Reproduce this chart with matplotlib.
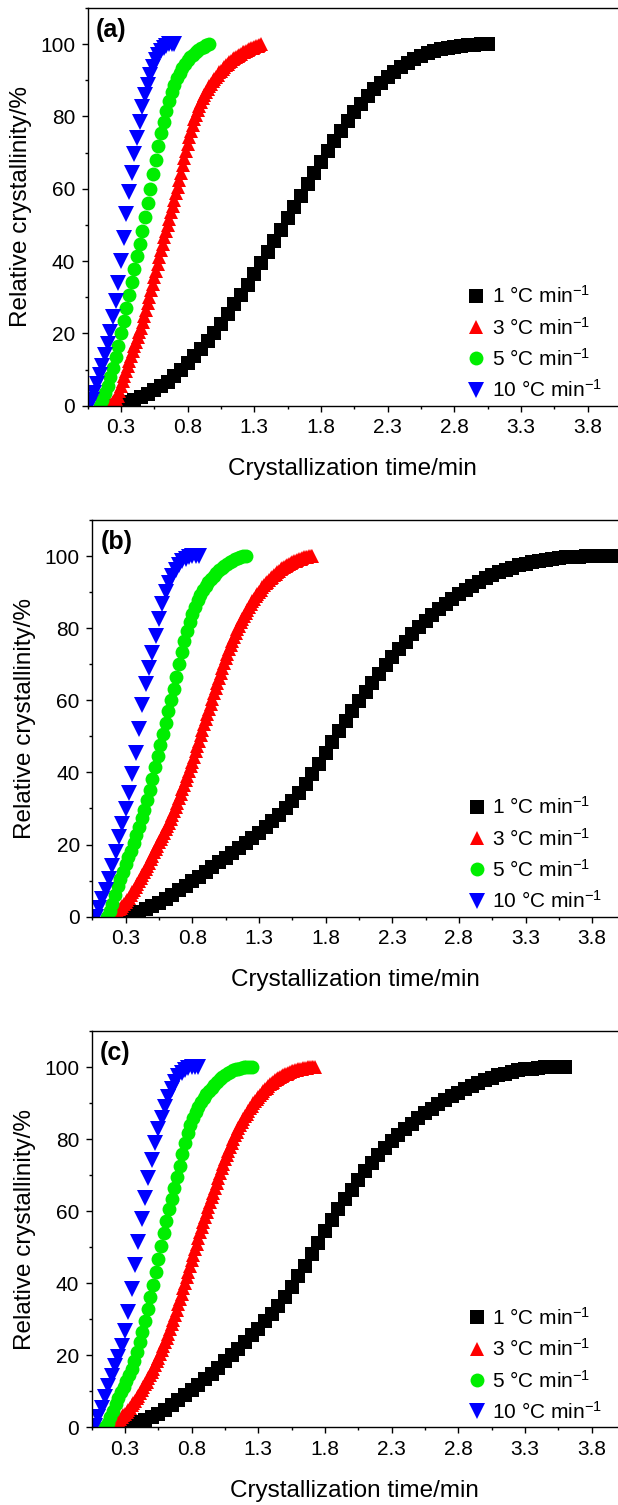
import matplotlib
matplotlib.use("Agg")
import matplotlib.pyplot as plt
from matplotlib.ticker import MultipleLocator

plt.rcParams['font.family'] = ['Liberation Sans', 'DejaVu Sans']
plt.rcParams['mathtext.fontset'] = 'custom'
plt.rcParams['mathtext.rm'] = 'Liberation Sans'
plt.rcParams['mathtext.it'] = 'Liberation Sans:italic'

labels = ['1 °C min$^{-1}$', '3 °C min$^{-1}$', '5 °C min$^{-1}$', '10 °C min$^{-1}$']

# ---------------- panel (a) ----------------
a_t1 = [0.25, 0.30, 0.35, 0.40, 0.45, 0.50, 0.55, 0.60, 0.65, 0.70, 0.75, 0.80, 0.85, 0.90, 0.95,
        1.00, 1.05, 1.10, 1.15, 1.20, 1.25, 1.30, 1.35, 1.40, 1.45, 1.50, 1.55, 1.60, 1.65, 1.70,
        1.75, 1.80, 1.85, 1.90, 1.95, 2.00, 2.05, 2.10, 2.15, 2.20, 2.25, 2.30, 2.35, 2.40, 2.45,
        2.50, 2.55, 2.60, 2.65, 2.70, 2.75, 2.80, 2.85, 2.90, 2.95, 3.00, 3.05]
a_x1 = [0.0, 0.5, 1.0, 1.6, 2.5, 3.3, 4.3, 5.4, 6.7, 8.3, 10.0, 11.8, 13.7, 15.7, 17.8,
        20.0, 22.6, 25.3, 28.0, 30.6, 33.5, 36.4, 39.4, 42.4, 45.5, 48.7, 51.8, 55.0, 58.1, 61.2,
        64.3, 67.4, 70.5, 73.3, 76.0, 78.8, 81.2, 83.5, 85.6, 87.5, 89.3, 90.9, 92.4, 93.7, 94.9,
        95.9, 96.8, 97.5, 98.1, 98.6, 99.0, 99.3, 99.5, 99.7, 99.8, 99.9, 100.0]
a_t3 = [0.2000, 0.2125, 0.2250, 0.2375, 0.2500, 0.2625, 0.2750, 0.2875, 0.3000, 0.3125,
        0.3250, 0.3375, 0.3500, 0.3625, 0.3750, 0.3875, 0.4000, 0.4125, 0.4250, 0.4375,
        0.4500, 0.4625, 0.4750, 0.4875, 0.5000, 0.5125, 0.5250, 0.5375, 0.5500, 0.5625,
        0.5750, 0.5875, 0.6000, 0.6125, 0.6250, 0.6375, 0.6500, 0.6625, 0.6750, 0.6875,
        0.7000, 0.7125, 0.7250, 0.7375, 0.7500, 0.7625, 0.7750, 0.7875, 0.8000, 0.8125,
        0.8250, 0.8375, 0.8500, 0.8625, 0.8750, 0.8875, 0.9000, 0.9125, 0.9250, 0.9375,
        0.9500, 0.9625, 0.9750, 0.9875, 1.0000, 1.0125, 1.0250, 1.0375, 1.0500, 1.0625,
        1.0750, 1.0875, 1.1000, 1.1125, 1.1250, 1.1375, 1.1500, 1.1625, 1.1750, 1.1875,
        1.2000, 1.2125, 1.2250, 1.2375, 1.2500, 1.2625, 1.2750, 1.2875, 1.3000, 1.3125,
        1.3250, 1.3375, 1.3500]
a_x3 = [0.0, 0.2, 0.5, 0.9, 1.3, 2.0, 2.8, 4.1, 5.5, 6.9,
        8.3, 9.6, 11.0, 12.4, 13.8, 15.1, 16.5, 17.7, 19.0, 20.3,
        21.6, 23.2, 24.8, 26.6, 28.4, 30.2, 32.0, 33.7, 35.5, 37.4,
        39.3, 41.1, 43.0, 44.8, 46.6, 48.3, 50.0, 51.7, 53.5, 55.2,
        57.0, 58.7, 60.5, 62.5, 64.5, 66.5, 68.5, 70.5, 72.5, 74.3,
        76.0, 77.6, 79.2, 80.5, 81.8, 82.9, 84.0, 85.0, 85.9, 86.8,
        87.6, 88.4, 89.1, 89.8, 90.4, 91.0, 91.6, 92.2, 92.7, 93.2,
        93.7, 94.2, 94.6, 95.0, 95.4, 95.8, 96.1, 96.5, 96.8, 97.1,
        97.4, 97.7, 97.9, 98.2, 98.4, 98.6, 98.8, 99.0, 99.2, 99.4,
        99.6, 99.8, 100.0]
a_t5 = [0.14, 0.16, 0.18, 0.20, 0.22, 0.24, 0.26, 0.28, 0.30, 0.32, 0.34, 0.36, 0.38, 0.40,
        0.42, 0.44, 0.46, 0.48, 0.50, 0.52, 0.54, 0.56, 0.58, 0.60, 0.62, 0.64, 0.66, 0.68,
        0.70, 0.72, 0.74, 0.76, 0.78, 0.80, 0.82, 0.84, 0.86, 0.88, 0.90, 0.92, 0.94, 0.96]
a_x5 = [0.0, 1.5, 3.5, 5.5, 8.0, 10.5, 13.5, 16.5, 20.0, 23.5, 27.0, 30.6, 34.2, 37.8,
        41.3, 44.8, 48.4, 52.1, 56.0, 60.0, 64.0, 68.0, 71.8, 75.3, 78.6, 81.6, 84.3, 86.7,
        88.8, 90.6, 92.1, 93.4, 94.5, 95.5, 96.4, 97.1, 97.8, 98.4, 98.9, 99.3, 99.7, 100.0]
a_t10 = [0.06, 0.08, 0.10, 0.12, 0.14, 0.16, 0.18, 0.20, 0.22, 0.24, 0.26, 0.28, 0.30, 0.32,
         0.34, 0.36, 0.38, 0.40, 0.42, 0.44, 0.46, 0.48, 0.50, 0.52, 0.54, 0.56, 0.58, 0.60,
         0.62, 0.64, 0.66, 0.68, 0.70]
a_x10 = [0.0, 1.5, 3.5, 6.0, 8.5, 11.0, 14.0, 17.0, 20.5, 24.5, 29.0, 34.0, 40.0, 46.5,
         53.0, 59.0, 64.5, 69.5, 74.0, 78.5, 82.5, 86.0, 88.8, 91.5, 93.8, 95.6, 97.0, 98.2,
         99.0, 99.6, 99.9, 100.0, 100.0]

# ---------------- panel (b) ----------------
b_t1 = [0.30, 0.35, 0.40, 0.45, 0.50, 0.55, 0.60, 0.65, 0.70, 0.75, 0.80, 0.85, 0.90, 0.95,
        1.00, 1.05, 1.10, 1.15, 1.20, 1.25, 1.30, 1.35, 1.40, 1.45, 1.50, 1.55, 1.60, 1.65,
        1.70, 1.75, 1.80, 1.85, 1.90, 1.95, 2.00, 2.05, 2.10, 2.15, 2.20, 2.25, 2.30, 2.35,
        2.40, 2.45, 2.50, 2.55, 2.60, 2.65, 2.70, 2.75, 2.80, 2.85, 2.90, 2.95, 3.00, 3.05,
        3.10, 3.15, 3.20, 3.25, 3.30, 3.35, 3.40, 3.45, 3.50, 3.55, 3.60, 3.65, 3.70, 3.75,
        3.80, 3.85, 3.90, 3.95, 4.00]
b_x1 = [0.3, 0.8, 1.4, 2.1, 2.9, 3.9, 5.0, 6.1, 7.3, 8.5, 9.8, 11.1, 12.5, 13.8,
        15.1, 16.4, 17.7, 19.0, 20.3, 21.7, 23.2, 24.8, 26.5, 28.2, 30.0, 32.0, 34.2, 36.7,
        39.5, 42.4, 45.5, 48.5, 51.4, 54.3, 57.1, 59.8, 62.4, 64.9, 67.3, 69.7, 72.0, 74.2,
        76.3, 78.3, 80.2, 82.0, 83.7, 85.3, 86.8, 88.2, 89.5, 90.7, 91.8, 92.8, 93.8, 94.7,
        95.5, 96.2, 96.8, 97.4, 97.9, 98.3, 98.7, 99.0, 99.3, 99.5, 99.65, 99.75, 99.85, 99.9,
        99.95, 100.0, 100.0, 100.0, 100.0]
b_t3 = [0.1750, 0.1875, 0.2000, 0.2125, 0.2250, 0.2375, 0.2500, 0.2625, 0.2750, 0.2875,
        0.3000, 0.3125, 0.3250, 0.3375, 0.3500, 0.3625, 0.3750, 0.3875, 0.4000, 0.4125,
        0.4250, 0.4375, 0.4500, 0.4625, 0.4750, 0.4875, 0.5000, 0.5125, 0.5250, 0.5375,
        0.5500, 0.5625, 0.5750, 0.5875, 0.6000, 0.6125, 0.6250, 0.6375, 0.6500, 0.6625,
        0.6750, 0.6875, 0.7000, 0.7125, 0.7250, 0.7375, 0.7500, 0.7625, 0.7750, 0.7875,
        0.8000, 0.8125, 0.8250, 0.8375, 0.8500, 0.8625, 0.8750, 0.8875, 0.9000, 0.9125,
        0.9250, 0.9375, 0.9500, 0.9625, 0.9750, 0.9875, 1.0000, 1.0125, 1.0250, 1.0375,
        1.0500, 1.0625, 1.0750, 1.0875, 1.1000, 1.1125, 1.1250, 1.1375, 1.1500, 1.1625,
        1.1750, 1.1875, 1.2000, 1.2125, 1.2250, 1.2375, 1.2500, 1.2625, 1.2750, 1.2875,
        1.3000, 1.3125, 1.3250, 1.3375, 1.3500, 1.3625, 1.3750, 1.3875, 1.4000, 1.4125,
        1.4250, 1.4375, 1.4500, 1.4625, 1.4750, 1.4875, 1.5000, 1.5125, 1.5250, 1.5375,
        1.5500, 1.5625, 1.5750, 1.5875, 1.6000, 1.6125, 1.6250, 1.6375, 1.6500, 1.6625,
        1.6750, 1.6875, 1.7000]
b_x3 = [0.0, 0.2, 0.5, 0.8, 1.2, 1.6, 2.0, 2.5, 3.0, 3.5,
        4.0, 4.6, 5.3, 6.0, 6.8, 7.5, 8.3, 9.0, 9.8, 10.6,
        11.5, 12.3, 13.2, 14.1, 15.0, 15.9, 16.9, 17.8, 18.8, 19.7,
        20.6, 21.5, 22.4, 23.3, 24.2, 25.1, 26.1, 27.1, 28.1, 29.2,
        30.4, 31.6, 32.8, 34.0, 35.3, 36.5, 37.8, 39.1, 40.4, 41.7,
        43.0, 44.4, 45.9, 47.3, 48.8, 50.3, 51.8, 53.3, 54.8, 56.2,
        57.6, 59.0, 60.5, 61.9, 63.4, 64.8, 66.2, 67.6, 69.0, 70.3,
        71.6, 72.9, 74.1, 75.3, 76.5, 77.6, 78.7, 79.7, 80.7, 81.7,
        82.6, 83.5, 84.3, 85.1, 85.9, 86.7, 87.4, 88.1, 88.8, 89.5,
        90.1, 90.7, 91.3, 91.9, 92.4, 92.9, 93.4, 93.9, 94.3, 94.7,
        95.1, 95.5, 95.9, 96.3, 96.6, 96.9, 97.2, 97.5, 97.8, 98.1,
        98.3, 98.5, 98.7, 98.9, 99.1, 99.3, 99.4, 99.6, 99.7, 99.8,
        99.9, 100.0, 100.0]
b_t5 = [0.16, 0.18, 0.20, 0.22, 0.24, 0.26, 0.28, 0.30, 0.32, 0.34, 0.36, 0.38, 0.40, 0.42,
        0.44, 0.46, 0.48, 0.50, 0.52, 0.54, 0.56, 0.58, 0.60, 0.62, 0.64, 0.66, 0.68, 0.70,
        0.72, 0.74, 0.76, 0.78, 0.80, 0.82, 0.84, 0.86, 0.88, 0.90, 0.92, 0.94, 0.96, 0.98,
        1.00, 1.02, 1.04, 1.06, 1.08, 1.10, 1.12, 1.14, 1.16, 1.18, 1.20]
b_x5 = [0.0, 1.5, 3.5, 6.0, 8.5, 10.5, 12.5, 14.6, 16.5, 18.3, 20.3, 22.6, 25.0, 27.3,
        29.7, 32.4, 35.2, 38.3, 41.5, 44.5, 47.6, 50.6, 53.8, 57.0, 60.0, 63.2, 66.5, 70.0,
        73.5, 76.5, 79.3, 81.8, 84.0, 86.0, 87.8, 89.3, 90.6, 91.7, 92.7, 93.6, 94.5, 95.3,
        96.0, 96.7, 97.3, 97.8, 98.3, 98.7, 99.1, 99.4, 99.7, 99.9, 100.0]
b_t10 = [0.075, 0.100, 0.125, 0.150, 0.175, 0.200, 0.225, 0.250, 0.275, 0.300, 0.325, 0.350,
         0.375, 0.400, 0.425, 0.450, 0.475, 0.500, 0.525, 0.550, 0.575, 0.600, 0.625, 0.650,
         0.675, 0.700, 0.725, 0.750, 0.775, 0.800, 0.825, 0.850]
b_x10 = [0.0, 2.5, 5.0, 7.5, 10.5, 14.0, 18.0, 22.0, 25.8, 29.8, 34.4, 39.5,
         45.4, 52.0, 58.8, 64.5, 69.0, 73.2, 77.8, 82.6, 86.8, 90.0, 92.5, 94.5,
         96.2, 97.5, 98.5, 99.2, 99.6, 99.9, 100.0, 100.0]

# ---------------- panel (c) ----------------
c_t1 = [0.30, 0.35, 0.40, 0.45, 0.50, 0.55, 0.60, 0.65, 0.70, 0.75, 0.80, 0.85, 0.90, 0.95,
        1.00, 1.05, 1.10, 1.15, 1.20, 1.25, 1.30, 1.35, 1.40, 1.45, 1.50, 1.55, 1.60, 1.65,
        1.70, 1.75, 1.80, 1.85, 1.90, 1.95, 2.00, 2.05, 2.10, 2.15, 2.20, 2.25, 2.30, 2.35,
        2.40, 2.45, 2.50, 2.55, 2.60, 2.65, 2.70, 2.75, 2.80, 2.85, 2.90, 2.95, 3.00, 3.05,
        3.10, 3.15, 3.20, 3.25, 3.30, 3.35, 3.40, 3.45, 3.50, 3.55, 3.60]
c_x1 = [0.3, 0.8, 1.4, 2.1, 2.9, 3.7, 4.9, 6.2, 7.5, 8.9, 10.3, 11.8, 13.3, 14.9,
        16.6, 18.3, 20.0, 21.8, 23.6, 25.5, 27.4, 29.4, 31.5, 33.8, 36.3, 39.0, 41.9, 44.9,
        48.1, 51.3, 54.5, 57.6, 60.5, 63.3, 66.0, 68.6, 71.1, 73.4, 75.6, 77.6, 79.5, 81.2,
        82.8, 84.3, 85.8, 87.2, 88.5, 89.7, 90.8, 91.9, 92.9, 93.9, 94.8, 95.6, 96.4, 97.1,
        97.7, 98.2, 98.7, 99.1, 99.4, 99.6, 99.8, 99.9, 100.0, 100.0, 100.0]
c_t3 = [0.1750, 0.1875, 0.2000, 0.2125, 0.2250, 0.2375, 0.2500, 0.2625, 0.2750, 0.2875,
        0.3000, 0.3125, 0.3250, 0.3375, 0.3500, 0.3625, 0.3750, 0.3875, 0.4000, 0.4125,
        0.4250, 0.4375, 0.4500, 0.4625, 0.4750, 0.4875, 0.5000, 0.5125, 0.5250, 0.5375,
        0.5500, 0.5625, 0.5750, 0.5875, 0.6000, 0.6125, 0.6250, 0.6375, 0.6500, 0.6625,
        0.6750, 0.6875, 0.7000, 0.7125, 0.7250, 0.7375, 0.7500, 0.7625, 0.7750, 0.7875,
        0.8000, 0.8125, 0.8250, 0.8375, 0.8500, 0.8625, 0.8750, 0.8875, 0.9000, 0.9125,
        0.9250, 0.9375, 0.9500, 0.9625, 0.9750, 0.9875, 1.0000, 1.0125, 1.0250, 1.0375,
        1.0500, 1.0625, 1.0750, 1.0875, 1.1000, 1.1125, 1.1250, 1.1375, 1.1500, 1.1625,
        1.1750, 1.1875, 1.2000, 1.2125, 1.2250, 1.2375, 1.2500, 1.2625, 1.2750, 1.2875,
        1.3000, 1.3125, 1.3250, 1.3375, 1.3500, 1.3625, 1.3750, 1.3875, 1.4000, 1.4125,
        1.4250, 1.4375, 1.4500, 1.4625, 1.4750, 1.4875, 1.5000, 1.5125, 1.5250, 1.5375,
        1.5500, 1.5625, 1.5750, 1.5875, 1.6000, 1.6125, 1.6250, 1.6375, 1.6500, 1.6625,
        1.6750, 1.6875, 1.7000, 1.7125, 1.7250]
c_x3 = [0.0, 0.2, 0.5, 0.8, 1.1, 1.5, 1.9, 2.3, 2.8, 3.3,
        3.8, 4.3, 4.9, 5.5, 6.1, 6.7, 7.4, 8.1, 8.8, 9.5,
        10.3, 11.1, 11.9, 12.7, 13.6, 14.5, 15.4, 16.3, 17.3, 18.3,
        19.3, 20.3, 21.4, 22.5, 23.6, 24.8, 26.0, 27.3, 28.6, 29.9,
        31.3, 32.7, 34.2, 35.6, 37.1, 38.6, 40.1, 41.6, 43.2, 44.8,
        46.4, 47.9, 49.5, 51.0, 52.6, 54.1, 55.6, 57.0, 58.4, 59.8,
        61.2, 62.5, 63.9, 65.1, 66.4, 67.8, 69.2, 70.5, 71.9, 73.1,
        74.4, 75.6, 76.8, 77.9, 79.0, 80.0, 81.1, 82.0, 83.0, 83.9,
        84.8, 85.6, 86.4, 87.1, 87.9, 88.6, 89.3, 90.0, 90.6, 91.2,
        91.8, 92.3, 92.9, 93.4, 93.9, 94.3, 94.8, 95.2, 95.6, 95.9,
        96.3, 96.6, 96.9, 97.2, 97.5, 97.7, 98.0, 98.2, 98.4, 98.6,
        98.8, 98.9, 99.1, 99.2, 99.4, 99.5, 99.6, 99.7, 99.8, 99.8,
        99.9, 99.9, 100.0, 100.0, 100.0]
c_t5 = [0.15, 0.17, 0.19, 0.21, 0.23, 0.25, 0.27, 0.29, 0.31, 0.33, 0.35, 0.37, 0.39, 0.41,
        0.43, 0.45, 0.47, 0.49, 0.51, 0.53, 0.55, 0.57, 0.59, 0.61, 0.63, 0.65, 0.67, 0.69,
        0.71, 0.73, 0.75, 0.77, 0.79, 0.81, 0.83, 0.85, 0.87, 0.89, 0.91, 0.93, 0.95, 0.97,
        0.99, 1.01, 1.03, 1.05, 1.07, 1.09, 1.11, 1.13, 1.15, 1.17, 1.19, 1.21, 1.23, 1.25]
c_x5 = [0.0, 1.3, 2.8, 4.5, 6.5, 8.2, 9.8, 11.3, 12.9, 14.5, 16.3, 18.4, 20.8, 23.7,
        26.6, 29.6, 32.8, 36.2, 39.6, 43.2, 46.8, 50.4, 54.0, 57.3, 60.5, 63.5, 66.5, 69.5,
        72.6, 75.8, 79.0, 81.6, 83.9, 85.9, 87.6, 89.0, 90.3, 91.5, 92.5, 93.4, 94.3, 95.1,
        95.9, 96.6, 97.2, 97.8, 98.3, 98.7, 99.1, 99.4, 99.6, 99.8, 99.9, 100.0, 100.0, 100.0]
c_t10 = [0.075, 0.100, 0.125, 0.150, 0.175, 0.200, 0.225, 0.250, 0.275, 0.300, 0.325, 0.350,
         0.375, 0.400, 0.425, 0.450, 0.475, 0.500, 0.525, 0.550, 0.575, 0.600, 0.625, 0.650,
         0.675, 0.700, 0.725, 0.750, 0.775, 0.800, 0.825, 0.850]
c_x10 = [0.5, 3.0, 5.5, 8.5, 11.5, 14.3, 16.9, 19.6, 22.7, 26.8, 32.0, 38.5,
         45.0, 51.5, 57.8, 63.8, 69.3, 74.3, 78.8, 82.7, 86.0, 89.0, 91.7, 94.0,
         95.9, 97.4, 98.5, 99.2, 99.7, 99.9, 100.0, 100.0]

panels = [
    ('(a)', [(a_t1, a_x1), (a_t3, a_x3), (a_t5, a_x5), (a_t10, a_x10)]),
    ('(b)', [(b_t1, b_x1), (b_t3, b_x3), (b_t5, b_x5), (b_t10, b_x10)]),
    ('(c)', [(c_t1, c_x1), (c_t3, c_x3), (c_t5, c_x5), (c_t10, c_x10)]),
]

colors = ['black', '#ff0000', '#00ee00', '#0000ff']
markers = ['s', '^', 'o', 'v']
msizes = [9.5, 10.5, 10, 11]

# axes boxes in figure fraction (left, bottom, width, height), right edge cropped
boxes = [
    [0.1419, 0.7304, 0.8581, 0.2643],
    [0.1494, 0.3909, 0.8506, 0.2636],
    [0.1484, 0.0516, 0.8516, 0.2633],
]

fig = plt.figure(figsize=(6.18, 15.05), dpi=100)

for (tag, series), box in zip(panels, boxes):
    ax = fig.add_axes(box)
    width_min = box[2] * 618 / 133.3
    for (t, x), c, m, ms, lab in zip(series, colors, markers, msizes, labels):
        ax.plot(t, x, linestyle='none', marker=m, markersize=ms, color=c,
                markeredgewidth=0, label=lab)
    ax.set_xlim(0.05, 0.05 + width_min)
    ax.set_ylim(0, 110)
    ax.xaxis.set_major_locator(MultipleLocator(0.5, offset=0.3))
    ax.xaxis.set_minor_locator(MultipleLocator(0.5, offset=0.05))
    ax.yaxis.set_major_locator(MultipleLocator(20))
    ax.yaxis.set_minor_locator(MultipleLocator(10))
    ax.spines['right'].set_visible(False)
    for s in ['top', 'left', 'bottom']:
        ax.spines[s].set_linewidth(1.0)
    ax.tick_params(which='major', direction='out', length=4, width=1.0, labelsize=15, pad=5)
    ax.tick_params(which='minor', direction='out', length=2.5, width=1.0)
    ax.set_xlabel('Crystallization time/min', fontsize=17.5, labelpad=15)
    ax.set_ylabel('Relative crystallinity/%', fontsize=17.5, labelpad=6)
    ax.text(0.016, 0.945, tag, transform=ax.transAxes, fontsize=18, fontweight='bold',
            ha='left', va='center')
    ax.legend(loc='lower right', bbox_to_anchor=(0.97, 0.012), frameon=False,
              fontsize=15, borderpad=0, borderaxespad=0, handlelength=1.0,
              handletextpad=0.25, labelspacing=0.45, markerscale=1.0, numpoints=1)

fig.savefig('out.png', dpi=100)
